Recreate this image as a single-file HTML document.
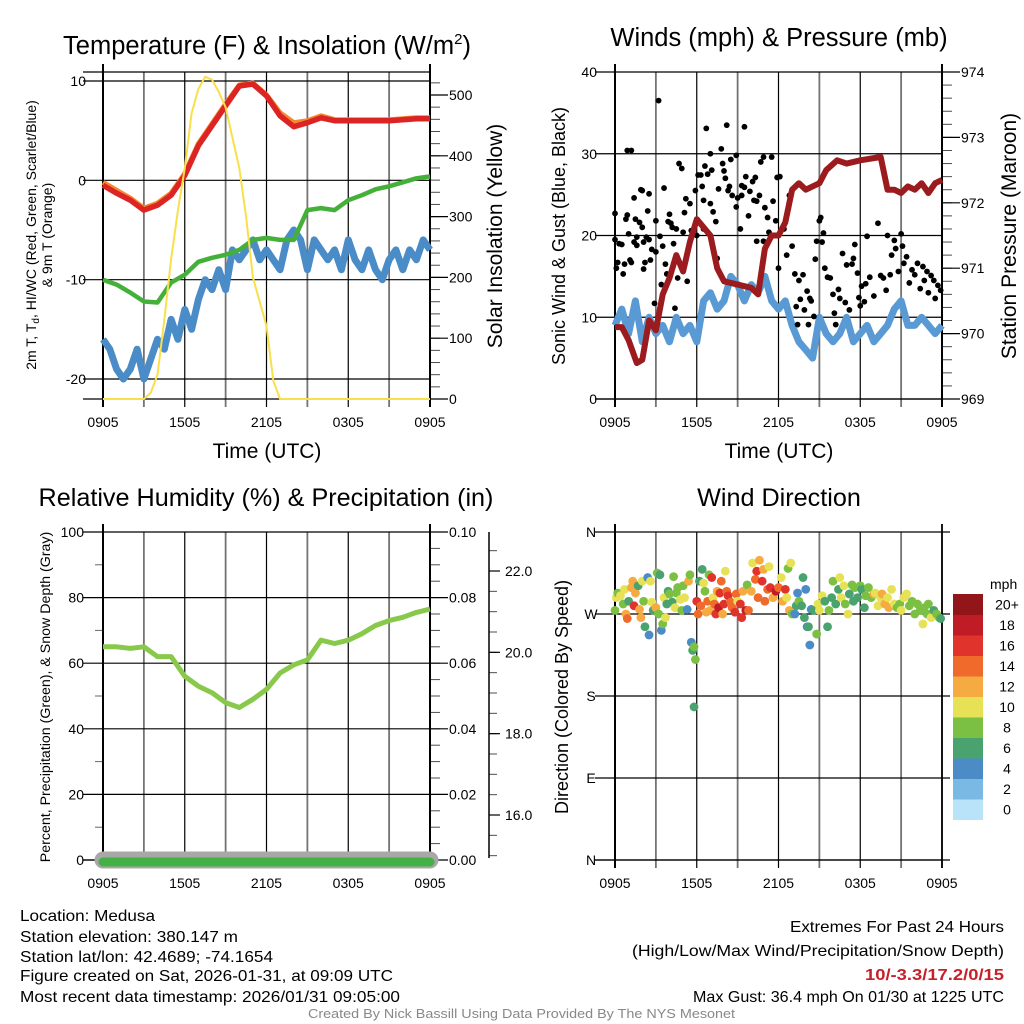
<!DOCTYPE html>
<html><head><meta charset="utf-8"><style>
html,body{margin:0;padding:0;background:#fff;}
svg{display:block;font-family:"Liberation Sans",sans-serif;}
</style></head><body>
<svg id="fig" width="1024" height="1024" viewBox="0 0 1024 1024"></svg>
<script>
// ===== DATA =====
const hours = [0,1,2,3,4,5,6,7,8,9,10,11,12,13,14,15,16,17,18,19,20,21,22,23,24];
const tempRed = [-0.5,-1.3,-2.0,-3.0,-2.5,-1.5,0.5,3.5,5.5,7.5,9.5,9.7,8.5,6.5,5.4,5.8,6.3,6.0,6.0,6.0,6.0,6.0,6.1,6.2,6.2];
const temp9mOrange = [-0.2,-1.0,-1.8,-2.8,-2.3,-1.3,0.7,3.7,5.7,7.7,9.6,9.8,8.6,6.8,5.8,6.0,6.5,6.1,6.1,6.1,6.1,6.1,6.2,6.3,6.3];
const dewGreen = [-10,-10.5,-11.3,-12.2,-12.3,-10.3,-9.5,-8.2,-7.8,-7.5,-7,-6,-5.8,-6,-6,-3,-2.8,-3,-2,-1.5,-0.9,-0.6,-0.2,0.2,0.4];
const halfHours = [];
for (let i = 0; i <= 48; i++) halfHours.push(i / 2);
const windChillBlue = [-16,-17,-19,-20,-19,-17,-20,-18,-16,-17,-14,-16,-13,-15,-12,-10,-11,-9,-11,-7,-8,-7,-6,-8,-7,-8,-9,-6,-5,-6,-9,-6,-7,-8,-7,-9,-6,-8,-9,-7,-9,-10,-8,-7,-9,-7,-8,-6,-7];
const solarTimes = [0,3,3.5,4,4.5,5,5.5,6,6.5,7,7.5,8,8.5,9,9.5,10,10.5,11,11.5,12,12.5,13,24];
const solarVals = [0,0,10,40,130,230,310,380,470,510,530,525,505,480,430,380,300,200,160,120,30,0,0];
const tempTicks = [10,0,-10,-20];
const solarTicks = [0,100,200,300,400,500];
const timeLabels = ["0905","1505","2105","0305","0905"];

const windBlue = [9,11,8,12,7,10,8,9,7,10,8,9,7,12,13,11,12,15,14,12,14,13,15,12,11,12,9,7,6,5,10,8,7,8,10,7,8,9,7,8,9,11,12,9,9,10,9,8,9];
const presTimes = [0,0.5,1,1.6,2,2.5,3,3.5,4,4.5,5,5.5,6,7,7.5,8,9,10,10.5,11,11.5,12,12.5,13,13.5,14,15,15.5,16.3,17,18,19.5,20,20.5,21,21.5,22,22.5,23,23.5,24];
const presVals = [970.1,970.1,969.9,969.55,969.6,970.2,970.05,970.6,970.85,971.2,970.95,971.4,971.75,971.5,971.0,970.8,970.75,970.7,970.6,971.3,971.5,971.5,971.7,972.2,972.3,972.2,972.3,972.5,972.65,972.6,972.65,972.7,972.2,972.2,972.15,972.25,972.2,972.3,972.15,972.3,972.35];
const gustTimes = [0.0,0.0,0.1,0.2,0.3,0.5,0.6,0.7,0.8,0.9,1.0,0.9,1.2,1.1,1.2,1.4,1.4,1.5,1.6,1.6,1.8,1.9,2.0,2.0,2.1,2.1,2.2,2.3,2.4,2.5,2.5,2.6,2.7,2.9,3.0,3.0,3.2,3.3,3.4,3.5,3.6,3.7,3.8,3.9,4.0,4.1,4.2,4.3,4.4,4.5,4.6,4.7,4.9,5.0,5.1,5.2,5.3,5.5,5.6,5.9,6.0,6.1,6.3,6.4,6.5,6.5,6.6,6.7,6.8,7.0,7.0,7.1,7.2,7.4,7.5,7.6,7.8,7.9,8.0,8.1,8.2,8.3,8.4,8.5,8.6,8.9,8.9,9.0,9.2,9.3,9.3,9.5,9.5,9.6,9.8,9.9,10.1,10.2,10.3,10.4,10.4,10.6,10.7,10.9,10.9,11.0,11.2,11.3,11.5,11.6,11.8,11.9,12.0,12.1,12.4,12.6,12.8,12.9,13.0,13.2,13.3,13.4,13.5,13.6,13.8,13.9,14.1,14.2,14.3,14.4,14.6,14.7,14.8,15.0,15.1,15.2,15.3,15.4,15.6,15.8,16.0,16.1,16.2,16.4,16.5,16.7,16.9,17.0,17.2,17.4,17.5,17.6,17.8,17.9,18.0,18.1,18.3,18.4,18.5,18.7,19.0,19.3,19.5,19.7,19.9,20.0,20.2,20.3,20.5,20.6,20.8,21.0,21.1,21.2,21.4,21.6,21.8,22.0,22.2,22.4,22.6,22.7,22.9,23.0,23.2,23.4,23.5,23.7,23.9];
const gustVals = [22.7,19.5,16,16.7,19,18.9,15.3,16.5,22,22.5,20.2,30.4,30.4,17,16.7,24.6,19.2,22,19.8,18.8,21.6,25.6,25.5,21,19.2,15.9,16.7,19.8,23,25.1,19.5,17,18.3,11.7,21.8,18,36.5,19.9,14,18.7,25.8,16.5,15.3,21.7,22.6,21.5,21,19,11.1,20.8,14.8,28.8,28.2,20.4,22.8,24.5,14.4,23.9,20.6,25.5,20,27.4,27.4,26,24.3,20.8,28.5,33.1,27.5,30,23.9,28,22.9,21.7,17.2,25.7,30.6,28.8,27.9,27,33.5,25.5,26,29.3,24.9,29.8,23.5,24.6,20.8,26.1,24.9,33.3,25.9,27.2,22.4,25.4,26.6,24.3,27.1,24.2,19.3,24.9,29,29.6,19.3,23.4,22.2,20.4,29.6,24.2,21.8,27.1,16,27.2,20.8,17.6,24.9,25,18.7,15.3,11.3,9.1,14.5,12.2,15.2,10.9,13.2,9.1,12.3,12,10.1,17.1,19.3,21.8,22.2,19.2,20.3,16,14.9,14.8,12.8,10.5,9.1,13.4,12.3,17.8,11.8,16.4,10.9,16.5,17.2,18.9,15.4,12.4,11.4,13.8,11.9,14.1,19.9,14.9,12.6,21.5,15.1,14.8,13.3,20,15.2,17.6,19.4,18.4,15.6,20.2,18.7,16.6,17.4,14.2,15.8,15.2,16.6,13.5,16.2,14.5,15.6,13,15.1,14.5,12.3,13.9,13.3];
const windTicks = [0,10,20,30,40];
const presTicks = [969,970,971,972,973,974];

const rhGreen = [65,65,64.5,65,62,62,56,53,51,48,46.5,49,52,57,59.5,61,67,66,67,69,71.5,73,74,75.5,76.5];
const precipVals = [0,0,0,0,0,0,0,0,0,0,0,0,0,0,0,0,0,0,0,0,0,0,0,0,0];
const rhTicks = [0,20,40,60,80,100];
const precipTicks = ["0.00","0.02","0.04","0.06","0.08","0.10"];
const snowTicks = [16,18,20,22];

const dirTimes = [0,0.1,0.2,0.4,0.6,0.7,0.8,0.9,1.0,1.2,1.3,1.4,1.5,1.7,1.8,1.9,2.0,2.1,2.2,2.4,2.5,2.6,2.7,2.8,3.0,3.1,3.2,3.3,3.4,3.5,3.6,3.7,3.8,3.9,4.0,4.2,4.3,4.4,4.5,4.6,4.8,4.9,5.0,5.1,5.3,5.4,5.5,5.6,5.7,5.8,5.9,5.8,6.0,6.1,6.2,6.3,6.4,6.5,6.6,6.7,6.8,6.9,7.0,7.1,7.2,7.3,7.4,7.5,7.6,7.7,7.8,7.9,8.0,8.1,8.2,8.3,8.5,8.6,8.8,8.9,9.0,9.2,9.3,9.4,9.6,9.7,9.8,10.0,10.1,10.3,10.4,10.5,10.6,10.8,10.9,11.0,11.2,11.3,11.4,11.6,11.8,12.0,12.2,12.3,12.5,12.6,12.7,12.8,12.9,13.0,13.2,13.3,13.4,13.5,13.7,13.8,13.9,14.0,14.1,14.2,14.3,14.4,14.6,14.8,14.9,15.0,15.2,15.4,15.6,15.7,15.9,16.0,16.2,16.4,16.5,16.6,16.8,16.9,17.1,17.2,17.4,17.5,17.6,17.8,18.0,18.1,18.3,18.4,18.6,18.8,19.0,19.1,19.3,19.5,19.6,19.8,20.0,20.1,20.3,20.5,20.7,20.9,21.0,21.2,21.4,21.6,21.8,22.0,22.2,22.4,22.6,22.7,22.9,23.0,23.2,23.4,23.6,23.8,23.9];
const dirVals = [274,288,293,290,281,297,270,265,284,299,306,279,293,301,275,266,306,284,256,310,247,306,283,274,277,315,270,313,252,259,288,266,281,295,292,283,311,277,293,299,286,274,301,288,275,306,313,239,230,234,220,168,284,270,306,279,319,304,295,272,284,313,274,310,288,281,270,295,277,293,306,270,281,317,295,290,283,277,272,292,284,281,266,295,274,302,274,295,326,308,317,288,329,306,319,284,297,322,299,288,295,299,310,284,297,288,320,274,326,270,270,279,293,284,279,310,266,297,256,256,236,275,274,248,281,274,290,284,256,274,288,306,281,297,310,288,301,281,270,292,302,284,299,288,301,297,277,290,299,288,292,293,279,288,292,281,288,277,297,281,277,281,274,288,292,279,284,270,281,274,259,277,270,281,266,274,270,266,265];
const dirSpeeds = [7,10,7,10,8,10,12,14,6,12,12,15,12,6,12,12,10,8,6,4,4,10,10,6,12,8,8,6,4,8,10,10,6,6,8,6,8,10,7,8,10,8,8,10,4,12,8,4,6,8,8,6,16,14,6,14,6,10,8,12,14,8,12,16,10,14,16,12,18,16,14,12,16,10,14,16,14,14,16,14,10,16,16,12,18,8,14,12,10,14,16,14,12,16,12,14,14,10,16,12,18,14,10,12,16,10,8,12,10,8,4,6,4,8,6,6,6,4,4,6,4,4,6,8,10,10,10,6,6,8,6,8,6,6,10,10,10,8,10,6,8,6,8,6,8,6,6,8,8,8,12,10,10,10,12,12,10,12,10,10,8,8,10,10,10,8,8,8,8,8,10,8,8,8,10,6,8,8,6];
const dirTickLabels = ["N","E","S","W","N"];
const speedBinLabels = ["0","2","4","6","8","10","12","14","16","18","20+"];
const speedColors = ["#b8e3f8","#7ab9e3","#4b8cc6","#4aa36f","#7bc043","#e6e155","#f6aa42","#f06a2b","#e0332b","#c01c25","#921519"];

// ===== HELPERS =====
const NS = "http://www.w3.org/2000/svg";
const svg = document.getElementById("fig");
function mk(tag, attrs, parent) {
  const e = document.createElementNS(NS, tag);
  for (const k in attrs) e.setAttribute(k, attrs[k]);
  (parent || svg).appendChild(e);
  return e;
}
function txt(s, attrs, parent) { const e = mk("text", attrs, parent); e.textContent = s; return e; }
function linScale(d0, d1, r0, r1) { return v => r0 + (v - d0) * (r1 - r0) / (d1 - d0); }
function pathFrom(xs, ys, fx, fy) {
  let d = "";
  for (let i = 0; i < xs.length; i++) d += (i ? "L" : "M") + fx(xs[i]).toFixed(1) + "," + fy(ys[i]).toFixed(1);
  return d;
}

function drawFrame(g, L, R, T, B, yGridPix, opts) {
  const fx = linScale(0, 24, L, R);
  for (let h = 0; h <= 24; h += 3) {
    const x = fx(h);
    const ln = mk("line", {x1:x, y1:T, x2:x, y2:B + 8, stroke:"#000", "stroke-width": h % 6 === 3 ? 1.8 : 1.2, "stroke-opacity": h % 6 === 3 ? 0.55 : 1}, g);
    
    
  }
  yGridPix.forEach(y => {
    const ln = mk("line", {x1:L - 20, y1:y, x2:R + (opts.gridRightExt || 0), y2:y, stroke:"#000", "stroke-width":1.2}, g);
    
    
  });
  const left = mk("line", {x1:L, y1:T - 8, x2:L, y2:B + 8, stroke:"#000", "stroke-width":2}, g);
  
  
  const right = mk("line", {x1:R, y1:T - 8, x2:R, y2:B + 8, stroke:"#000", "stroke-width":opts.rightW || 2}, g);
  
  
  const bottom = mk("line", {x1:L - 20, y1:B, x2:R, y2:B, stroke:"#000", "stroke-width":1.2}, g);
  
  
  timeLabels.forEach((s, i) => {
    const t = txt(s, {x:fx(i * 6), y:B + 28, "font-size":14, "text-anchor":"middle"}, g);
    
    
  });
  return fx;
}
function minorTicks(g, x, ys, len) {
  ys.forEach(y => {
    const t = mk("line", {x1:x, y1:y, x2:x + len, y2:y, stroke:"#000", "stroke-width":1, "stroke-opacity":0.7}, g);
    
    
  });
}

// ===== PANEL 1: Temperature =====
(function () {
  const g = mk("g", {});
  
  
  const L = 103, R = 430, T = 72, B = 399;
  const fyT = linScale(10, -20, 81, 379);
  const fyS = linScale(0, 500, 399, 95);
  const fx = drawFrame(g, L, R, T, B, [72].concat(tempTicks.map(fyT)), {gridRightExt:0});
  tempTicks.forEach(v => {
    const t = txt(String(v), {x:86, y:fyT(v) + 5, "font-size":14, "text-anchor":"end"}, g);
    
    
  });
  const minorYs = [];
  for (let v = 0; v <= 520; v += 20) minorYs.push(fyS(v));
  minorTicks(g, R, minorYs, 10);
  solarTicks.forEach(v => {
    const tk = mk("line", {x1:R, y1:fyS(v), x2:R + 18, y2:fyS(v), stroke:"#000", "stroke-width":1.2}, g);
    
    
    const t = txt(String(v), {x:449, y:fyS(v) + 5, "font-size":14}, g);
    
    
  });
  const clip = mk("clipPath", {id:"c1"}, g);
  mk("rect", {x:L - 4, y:T, width:R - L + 8, height:B - T + 2}, clip);
  const pg = mk("g", {"clip-path":"url(#c1)"}, g);
  const wc = mk("path", {d:pathFrom(halfHours, windChillBlue, fx, fyT), fill:"none", stroke:"#4a8cc7", "stroke-width":7, "stroke-linejoin":"round"}, pg);
  
  
  const dp = mk("path", {d:pathFrom(hours, dewGreen, fx, fyT), fill:"none", stroke:"#44b03a", "stroke-width":4.5, "stroke-linejoin":"round"}, pg);
  
  
  const or = mk("path", {d:pathFrom(hours, temp9mOrange, fx, fyT), fill:"none", stroke:"#f48a30", "stroke-width":5, "stroke-linejoin":"round"}, pg);
  
  
  const rd = mk("path", {d:pathFrom(hours, tempRed, fx, fyT), fill:"none", stroke:"#dc2424", "stroke-width":5.5, "stroke-linejoin":"round"}, pg);
  
  
  const so = mk("path", {d:pathFrom(solarTimes, solarVals, fx, fyS), fill:"none", stroke:"#f7e04a", "stroke-width":2}, pg);
  
  
  const ti = txt("", {x:267, y:54, "font-size":25.5, "text-anchor":"middle"}, g);
  ti.innerHTML = 'Temperature (F) &amp; Insolation (W/m<tspan dy="-10" font-size="15">2</tspan><tspan dy="10">)</tspan>';
  
  
  const xt = txt("Time (UTC)", {x:267, y:458, "font-size":21, "text-anchor":"middle"}, g);
  
  
  const yl = txt("", {transform:"translate(36,235) rotate(-90)", "font-size":14, "text-anchor":"middle"}, g);
  yl.innerHTML = '2m T, T<tspan dy="3" font-size="10">d</tspan><tspan dy="-3">, HI/WC (Red, Green, Scarlet/Blue)</tspan>';
  
  
  const yl2 = txt("& 9m T (Orange)", {transform:"translate(52,235) rotate(-90)", "font-size":14, "text-anchor":"middle"}, g);
  
  
  const yr = txt("Solar Insolation (Yellow)", {transform:"translate(502,236) rotate(-90)", "font-size":21, "text-anchor":"middle"}, g);
  
  
})();

// ===== PANEL 2: Winds & Pressure =====
(function () {
  const g = mk("g", {});
  
  
  const L = 615, R = 942, T = 72, B = 399;
  const fyW = linScale(0, 40, 399, 72);
  const fyP = linScale(969, 974, 399, 72);
  const fx = drawFrame(g, L, R, T, B, windTicks.map(fyW), {gridRightExt:0});
  windTicks.forEach(v => {
    const t = txt(String(v), {x:597, y:fyW(v) + 5, "font-size":14, "text-anchor":"end"}, g);
    
    
  });
  const minorYs = [];
  for (let v = 969; v <= 974.001; v += 0.2) minorYs.push(fyP(v));
  minorTicks(g, R, minorYs, 10);
  presTicks.forEach(v => {
    const tk = mk("line", {x1:R, y1:fyP(v), x2:R + 18, y2:fyP(v), stroke:"#000", "stroke-width":1.2}, g);
    
    
    const t = txt(String(v), {x:961, y:fyP(v) + 5, "font-size":14}, g);
    
    
  });
  const wb = mk("path", {d:pathFrom(halfHours, windBlue, fx, fyW), fill:"none", stroke:"#5a9ad4", "stroke-width":7, "stroke-linejoin":"round"}, g);
  
  
  gustTimes.forEach((t, i) => {
    const c = mk("circle", {cx:fx(t), cy:fyW(gustVals[i]), r:2.9, fill:"#000"}, g);
    
    
  });
  const pr = mk("path", {d:pathFrom(presTimes, presVals, fx, fyP), fill:"none", stroke:"#9b1b1e", "stroke-width":6, "stroke-linejoin":"round"}, g);
  
  
  const ti = txt("Winds (mph) & Pressure (mb)", {x:779, y:46, "font-size":25.5, "text-anchor":"middle"}, g);
  
  
  const xt = txt("Time (UTC)", {x:779, y:458, "font-size":21, "text-anchor":"middle"}, g);
  
  
  const yl = txt("Sonic Wind & Gust (Blue, Black)", {transform:"translate(565,236) rotate(-90)", "font-size":18, "text-anchor":"middle"}, g);
  
  
  const yr = txt("Station Pressure (Maroon)", {transform:"translate(1016,236) rotate(-90)", "font-size":21, "text-anchor":"middle"}, g);
  
  
})();

// ===== PANEL 3: RH & Precip =====
(function () {
  const g = mk("g", {});
  
  
  const L = 103, R = 430, T = 532, B = 860;
  const fyR = linScale(0, 100, 860, 532);
  const fyS = linScale(16, 22, 815, 571);
  const fx = drawFrame(g, L, R, T, B, rhTicks.map(fyR), {gridRightExt:18});
  rhTicks.forEach(v => {
    const t = txt(String(v), {x:84, y:fyR(v) + 5, "font-size":14, "text-anchor":"end"}, g);
    
    
  });
  const minorYs = [];
  for (let v = 0; v <= 100; v += 5) minorYs.push(fyR(v));
  minorTicks(g, R, minorYs, 10);
  for (let v = 10; v < 100; v += 20) {
    const t = mk("line", {x1:L - 8, y1:fyR(v), x2:L, y2:fyR(v), stroke:"#000", "stroke-opacity":0.6}, g);
    
    
  }
  precipTicks.forEach((s, i) => {
    const t = txt(s, {x:449, y:fyR(i * 20) + 5, "font-size":14}, g);
    
    
  });
  const sAx = mk("line", {x1:489, y1:532, x2:489, y2:858, stroke:"#000", "stroke-width":1.5}, g);
  
  
  const sm = [];
  for (let v = 15; v <= 22.5; v += 0.5) sm.push(fyS(v));
  sm.forEach(y => {
    if (y < 532 || y > 858) return;
    const t = mk("line", {x1:489, y1:y, x2:497, y2:y, stroke:"#000", "stroke-opacity":0.7}, g);
    
    
  });
  snowTicks.forEach(v => {
    const tk = mk("line", {x1:489, y1:fyS(v), x2:500, y2:fyS(v), stroke:"#000", "stroke-width":1.2}, g);
    
    
    const t = txt(v.toFixed(1), {x:505, y:fyS(v) + 5, "font-size":14}, g);
    
    
  });
  const sn = mk("path", {d:pathFrom(hours, precipVals, fx, fyR), fill:"none", stroke:"#a8a8a8", "stroke-width":17, "stroke-linecap":"round"}, g);
  
  
  const pp = mk("path", {d:pathFrom(hours, precipVals, fx, v => fyR(v) + 2), fill:"none", stroke:"#45b046", "stroke-width":9, "stroke-linecap":"round"}, g);
  
  
  const rh = mk("path", {d:pathFrom(hours, rhGreen, fx, fyR), fill:"none", stroke:"#88c94b", "stroke-width":5, "stroke-linejoin":"round"}, g);
  
  
  const ti = txt("Relative Humidity (%) & Precipitation (in)", {x:266, y:506, "font-size":25.2, "text-anchor":"middle"}, g);
  
  
  const yl = txt("Percent, Precipitation (Green), & Snow Depth (Gray)", {transform:"translate(50,697) rotate(-90)", "font-size":14.2, "text-anchor":"middle"}, g);
  
  
})();

// ===== PANEL 4: Wind Direction =====
(function () {
  const g = mk("g", {});
  
  
  const L = 615, R = 942, T = 532, B = 860;
  const fyD = linScale(0, 360, 860, 532);
  const fx = drawFrame(g, L, R, T, B, [0, 90, 180, 270, 360].map(fyD), {gridRightExt:8, rightW:1.8});
  dirTickLabels.forEach((s, i) => {
    const t = txt(s, {x:591, y:fyD(i * 90) + 5, "font-size":14, "text-anchor":"middle"}, g);
    
    
  });
  dirTimes.forEach((t, i) => {
    const idx = Math.min(10, Math.round(dirSpeeds[i] / 2));
    const c = mk("circle", {cx:fx(t), cy:fyD(dirVals[i]), r:4.4, fill:speedColors[idx]}, g);
    
    
  });
  const ti = txt("Wind Direction", {x:779, y:506, "font-size":25.2, "text-anchor":"middle"}, g);
  
  
  const yl = txt("Direction (Colored By Speed)", {transform:"translate(568,697) rotate(-90)", "font-size":18, "text-anchor":"middle"}, g);
  
  
  const lg = mk("g", {}, g);
  
  
  const mph = txt("mph", {x:990, y:589, "font-size":14}, lg);
  
  
  const top = 594, bh = 20.5;
  speedBinLabels.forEach((s, i) => {
    const y = top + (10 - i) * bh;
    const r = mk("rect", {x:953, y:y, width:30, height:bh + 0.5, fill:speedColors[i]}, lg);
    
    
    const t = txt(s, {x:1007, y:y + bh / 2 + 5, "font-size":14, "text-anchor":"middle"}, lg);
    
    
  });
})();

// ===== FOOTER =====
(function () {
  const g = mk("g", {"font-family":"'Liberation Sans Narrow','Liberation Sans',sans-serif"});
  
  
  const leftLines = [["Location: Medusa",135],["Station elevation: 380.147 m",218],["Station lat/lon: 42.4689; -74.1654",253],["Figure created on Sat, 2026-01-31, at 09:09 UTC",373],["Most recent data timestamp: 2026/01/31 09:05:00",380]];
  const lys = [921, 942, 962, 981, 1002];
  leftLines.forEach((l, i) => {
    const t = txt(l[0], {x:20, y:lys[i], "font-size":16, textLength:l[1], lengthAdjust:"spacingAndGlyphs"}, g);
    
    
  });
  const r1 = txt("Extremes For Past 24 Hours", {x:790, y:932, "font-size":16, textLength:214, lengthAdjust:"spacingAndGlyphs"}, g);
  
  
  const r2 = txt("(High/Low/Max Wind/Precipitation/Snow Depth)", {x:632, y:956, "font-size":16, textLength:372, lengthAdjust:"spacingAndGlyphs"}, g);
  
  
  const r3 = txt("10/-3.3/17.2/0/15", {x:865, y:980, "font-size":16, "font-weight":"bold", fill:"#c8202a", textLength:139, lengthAdjust:"spacingAndGlyphs"}, g);
  
  
  const r4 = txt("Max Gust: 36.4 mph On 01/30 at 1225 UTC", {x:693, y:1002, "font-size":16, textLength:311, lengthAdjust:"spacingAndGlyphs"}, g);
  
  
  const c = txt("Created By Nick Bassill Using Data Provided By The NYS Mesonet", {x:308, y:1018, "font-size":12.5, fill:"#888", textLength:427, lengthAdjust:"spacingAndGlyphs"}, g);
  
  
})();
</script>
</body></html>
